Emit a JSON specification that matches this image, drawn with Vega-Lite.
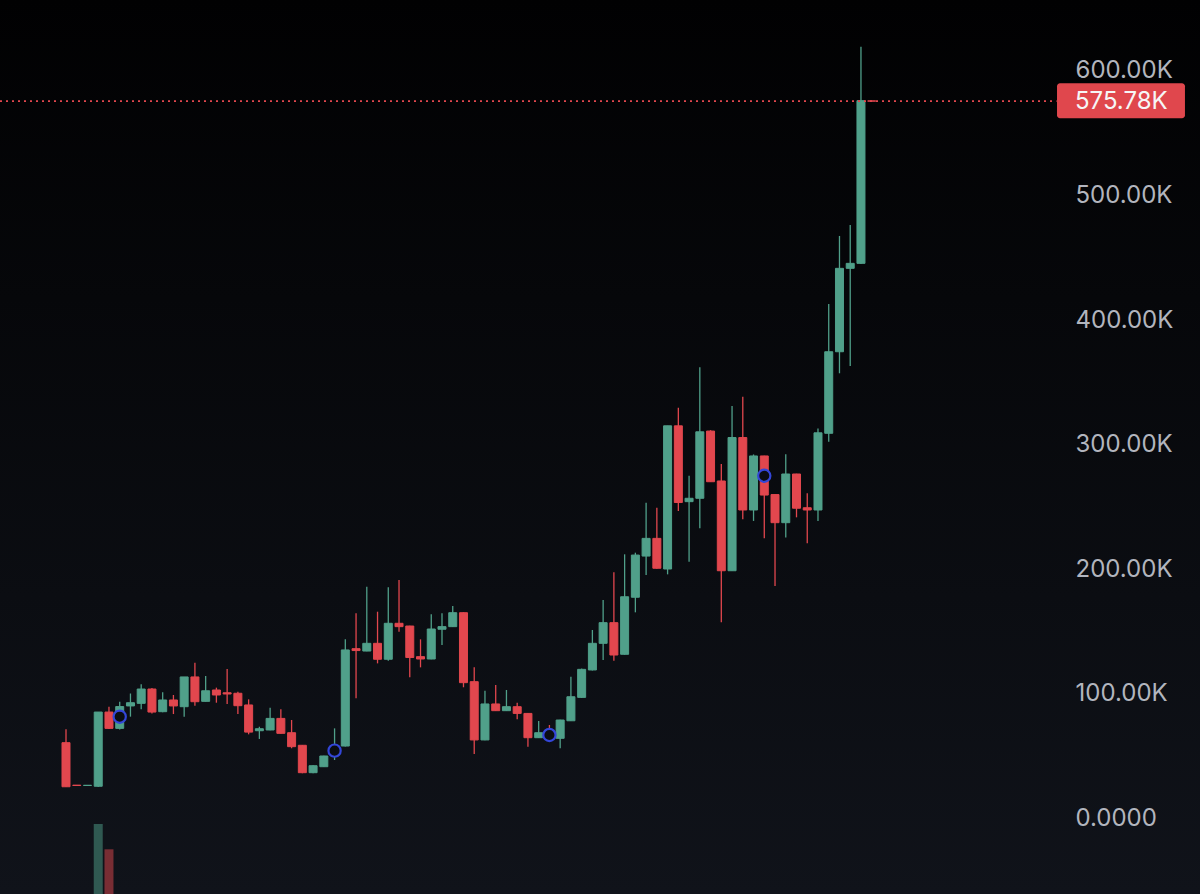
{
  "$schema": "https://vega.github.io/schema/vega-lite/v6.json",
  "width": 1200,
  "height": 894,
  "autosize": {"type": "none"},
  "padding": 0,
  "background": "#07080b",
  "config": {
    "view": {
      "stroke": null,
      "fill": {"gradient": "linear", "x1": 0, "y1": 0, "x2": 0, "y2": 1,
        "stops": [{"offset": 0, "color": "#010102"}, {"offset": 1, "color": "#10131a"}]}
    }
  },
  "datasets": {
    "candles": [
      {"i":1,"o":60500,"h":71200,"l":25000,"c":25100},
      {"i":2,"o":26400,"h":26400,"l":26000,"c":26100},
      {"i":3,"o":26100,"h":26400,"l":26000,"c":26300},
      {"i":4,"o":25500,"h":85100,"l":25000,"c":85100,"v":7.83},
      {"i":5,"o":85100,"h":89400,"l":71500,"c":72000,"v":5.0},
      {"i":6,"o":72000,"h":93400,"l":71000,"c":89500},
      {"i":7,"o":90000,"h":100000,"l":81400,"c":92600},
      {"i":8,"o":92100,"h":107400,"l":87300,"c":103600},
      {"i":9,"o":103600,"h":104500,"l":84000,"c":85100},
      {"i":10,"o":85400,"h":101000,"l":85000,"c":94800},
      {"i":11,"o":94800,"h":98800,"l":83500,"c":90000},
      {"i":12,"o":89400,"h":113300,"l":81400,"c":113300},
      {"i":13,"o":113300,"h":124700,"l":90200,"c":93400},
      {"i":14,"o":93700,"h":114000,"l":93500,"c":102200},
      {"i":15,"o":102800,"h":104700,"l":92600,"c":98800},
      {"i":16,"o":100600,"h":119700,"l":91600,"c":99600},
      {"i":17,"o":100200,"h":101400,"l":83500,"c":90200},
      {"i":18,"o":90800,"h":95300,"l":67200,"c":69000},
      {"i":19,"o":70100,"h":73300,"l":63500,"c":71700},
      {"i":20,"o":70700,"h":88600,"l":70500,"c":80000},
      {"i":21,"o":80000,"h":87300,"l":67800,"c":68000},
      {"i":22,"o":68500,"h":78700,"l":56000,"c":57300},
      {"i":23,"o":58400,"h":58600,"l":36000,"c":36400},
      {"i":24,"o":36400,"h":42300,"l":36000,"c":42000},
      {"i":25,"o":41200,"h":50000,"l":41000,"c":49800},
      {"i":26,"o":49800,"h":72000,"l":46600,"c":57800},
      {"i":27,"o":57800,"h":143500,"l":57500,"c":135000},
      {"i":28,"o":136000,"h":164400,"l":96100,"c":134500},
      {"i":29,"o":134100,"h":185800,"l":134000,"c":140300},
      {"i":30,"o":140300,"h":165700,"l":124200,"c":127500},
      {"i":31,"o":127500,"h":185300,"l":126300,"c":156400},
      {"i":32,"o":156400,"h":191200,"l":149600,"c":153700},
      {"i":33,"o":154200,"h":154500,"l":113000,"c":128900},
      {"i":34,"o":129600,"h":143500,"l":121000,"c":127700},
      {"i":35,"o":127700,"h":163600,"l":127500,"c":151800},
      {"i":36,"o":151600,"h":164400,"l":139000,"c":153700},
      {"i":37,"o":153700,"h":170300,"l":153500,"c":164900},
      {"i":38,"o":164900,"h":165200,"l":105000,"c":108700},
      {"i":39,"o":109500,"h":121000,"l":51400,"c":62700},
      {"i":40,"o":62700,"h":102200,"l":62500,"c":91600},
      {"i":41,"o":91600,"h":106800,"l":86000,"c":86200},
      {"i":42,"o":86200,"h":102800,"l":86000,"c":89400},
      {"i":43,"o":89400,"h":92600,"l":79300,"c":84000},
      {"i":44,"o":84000,"h":84200,"l":57300,"c":64500},
      {"i":45,"o":64500,"h":77900,"l":64300,"c":68500},
      {"i":46,"o":68500,"h":74700,"l":62000,"c":64500},
      {"i":47,"o":64000,"h":78900,"l":56000,"c":78700},
      {"i":48,"o":78100,"h":113500,"l":78000,"c":97400},
      {"i":49,"o":96900,"h":120000,"l":96500,"c":119400},
      {"i":50,"o":118900,"h":151000,"l":118500,"c":140300},
      {"i":51,"o":140300,"h":175100,"l":126900,"c":156900},
      {"i":52,"o":156900,"h":197300,"l":126300,"c":130900},
      {"i":53,"o":131500,"h":211800,"l":131200,"c":177700},
      {"i":54,"o":177300,"h":213100,"l":165200,"c":211200},
      {"i":55,"o":210400,"h":253200,"l":195200,"c":224600},
      {"i":56,"o":224600,"h":249200,"l":200300,"c":200600},
      {"i":57,"o":200000,"h":315000,"l":195700,"c":315000},
      {"i":58,"o":315000,"h":329600,"l":246600,"c":253400},
      {"i":59,"o":254100,"h":274900,"l":205800,"c":256800},
      {"i":60,"o":256800,"h":362000,"l":232700,"c":310200},
      {"i":61,"o":310800,"h":311500,"l":270000,"c":270100},
      {"i":62,"o":270700,"h":284300,"l":157200,"c":198600},
      {"i":63,"o":198600,"h":330900,"l":198500,"c":305600},
      {"i":64,"o":305600,"h":338400,"l":239900,"c":247400},
      {"i":65,"o":247400,"h":292000,"l":238600,"c":290800},
      {"i":66,"o":290800,"h":291000,"l":224600,"c":259400},
      {"i":67,"o":259800,"h":260000,"l":186300,"c":237200},
      {"i":68,"o":237200,"h":292100,"l":225300,"c":276300},
      {"i":69,"o":276300,"h":276500,"l":241500,"c":248800},
      {"i":70,"o":249200,"h":260800,"l":220600,"c":247400},
      {"i":71,"o":247400,"h":312900,"l":238600,"c":309400},
      {"i":72,"o":309000,"h":412900,"l":302300,"c":374500},
      {"i":73,"o":374500,"h":467500,"l":357200,"c":441500},
      {"i":74,"o":441500,"h":476300,"l":363000,"c":445500},
      {"i":75,"o":445500,"h":619500,"l":445000,"c":576200},
      {"i":76,"o":576000,"h":576000,"l":575780,"c":575780}
    ],
    "circles": [
      {"i":6,"p":81400},
      {"i":26,"p":54100},
      {"i":46,"p":66700},
      {"i":66,"p":274900}
    ],
    "last": [{"price":575780,"label":"575.78K"}]
  },
  "layer": [
    {
      "layer": [
        {
          "data": {"name": "candles"},
          "mark": {"type": "rule", "strokeWidth": 1.3},
          "encoding": {
            "x": {"field": "i", "type": "quantitative", "scale": {"domain": [-5.1437, 106.56], "nice": false, "zero": false, "padding": 0}, "axis": null},
            "y": {"field": "l", "type": "quantitative", "scale": {"domain": [-61044, 657028], "nice": false, "zero": false},
              "axis": {"orient": "right", "offset": -125, "values": [0,100000,200000,300000,400000,500000,600000],
                "labelExpr": "datum.value == 0 ? '0.0000' : format(datum.value/1000, '.2f') + 'K'",
                "domain": false, "ticks": false, "grid": false, "labelPadding": 0, "labelAlign": "left",
                "labelFont": "Inter", "labelFontSize": 24, "labelColor": "#b2b5be", "title": null}},
            "y2": {"field": "h"},
            "color": {"condition": {"test": "datum.c >= datum.o", "value": "#50a08a"}, "value": "#e2474e"}
          }
        },
        {
          "data": {"name": "candles"},
          "mark": {"type": "bar", "size": 8, "strokeWidth": 1},
          "encoding": {
            "x": {"field": "i", "type": "quantitative", "scale": {"domain": [-5.1437, 106.56], "nice": false, "zero": false, "padding": 0}},
            "y": {"field": "o", "type": "quantitative", "scale": {"domain": [-61044, 657028], "nice": false, "zero": false}},
            "y2": {"field": "c"},
            "color": {"condition": {"test": "datum.c >= datum.o", "value": "#50a08a"}, "value": "#e2474e"},
            "stroke": {"condition": {"test": "datum.c >= datum.o", "value": "#50a08a"}, "value": "#e2474e"}
          }
        },
        {
          "data": {"name": "circles"},
          "mark": {"type": "point", "shape": "circle", "filled": true, "fill": "#0b0d12", "stroke": "#3346d8", "strokeWidth": 2.2, "size": 150, "opacity": 1},
          "encoding": {
            "x": {"field": "i", "type": "quantitative", "scale": {"domain": [-5.1437, 106.56], "nice": false, "zero": false, "padding": 0}},
            "y": {"field": "p", "type": "quantitative", "scale": {"domain": [-61044, 657028], "nice": false, "zero": false}}
          }
        },
        {
          "data": {"name": "last"},
          "mark": {"type": "rule", "color": "#e2474e", "strokeWidth": 1.8, "strokeDash": [2, 4]},
          "encoding": {
            "x": {"datum": -5.1437, "type": "quantitative", "scale": {"domain": [-5.1437, 106.56], "nice": false, "zero": false, "padding": 0}},
            "x2": {"datum": 93.2},
            "y": {"field": "price", "type": "quantitative", "scale": {"domain": [-61044, 657028], "nice": false, "zero": false}}
          }
        },
        {
          "data": {"name": "last"},
          "mark": {"type": "rect", "color": "#e0474d", "cornerRadius": 3},
          "encoding": {
            "x": {"datum": 93.25, "type": "quantitative", "scale": {"domain": [-5.1437, 106.56], "nice": false, "zero": false, "padding": 0}},
            "x2": {"datum": 105.16},
            "y": {"datum": 590100, "type": "quantitative", "scale": {"domain": [-61044, 657028], "nice": false, "zero": false}},
            "y2": {"datum": 562000}
          }
        },
        {
          "data": {"name": "last"},
          "mark": {"type": "text", "align": "left", "baseline": "middle", "font": "Inter", "fontSize": 24, "color": "#f6f6f6", "dy": 1},
          "encoding": {
            "x": {"datum": 94.92, "type": "quantitative", "scale": {"domain": [-5.1437, 106.56], "nice": false, "zero": false, "padding": 0}},
            "y": {"field": "price", "type": "quantitative", "scale": {"domain": [-61044, 657028], "nice": false, "zero": false}},
            "text": {"field": "label"}
          }
        }
      ]
    },
    {
      "data": {"name": "candles"},
      "transform": [{"filter": "datum.v > 0"}],
      "mark": {"type": "bar", "size": 9, "opacity": 0.5},
      "encoding": {
        "x": {"field": "i", "type": "quantitative", "scale": {"domain": [-5.1437, 106.56], "nice": false, "zero": false, "padding": 0}},
        "y": {"field": "v", "type": "quantitative", "scale": {"domain": [0, 100], "nice": false}, "axis": null},
        "color": {"condition": {"test": "datum.c >= datum.o", "value": "#50a08a"}, "value": "#e2474e"}
      }
    }
  ],
  "resolve": {"scale": {"y": "independent"}}
}
